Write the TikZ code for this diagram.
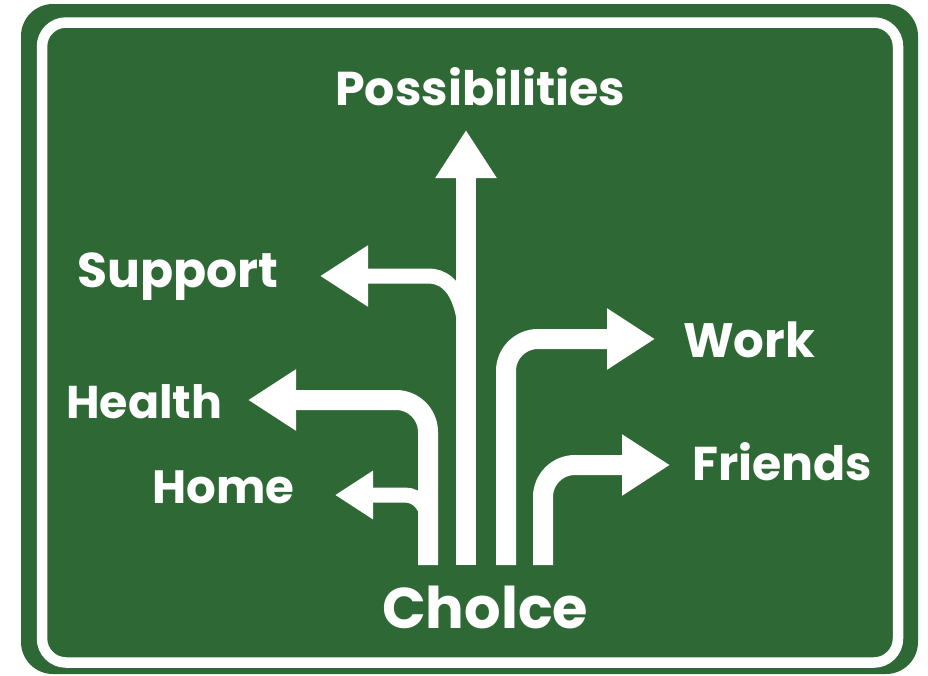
\documentclass[tikz,border=0pt]{standalone}
\usepackage{fontspec}
\setmainfont{Poppins}
\usetikzlibrary{arrows.meta}
\definecolor{signgreen}{RGB}{46,104,53}
\begin{document}
\begin{tikzpicture}[x=1pt,y=-1pt,
  lbl/.style={text=white, font=\bfseries, inner sep=0pt, anchor=base west},
  road/.style={draw=white, line width=20pt, line cap=butt},
  branch/.style={draw=white, line width=15pt, line cap=butt},
  bighead/.style={-{Triangle[width=58pt,length=48pt]}},
  smallhead/.style={-{Triangle[width=46pt,length=38pt]}}]
\useasboundingbox (0,0) rectangle (928,675);
\fill[white] (0,0) rectangle (928,675);
% sign board
\fill[signgreen, rounded corners=32pt] (21,4) rectangle (918,674);
\draw[white, line width=10.5pt, rounded corners=24pt] (42,22.5) rectangle (898,662.5);
% coordinates
\coordinate (mainS) at (466,565);
\coordinate (mainT) at (466,130);
\coordinate (supJ) at (466,345);
\coordinate (supT) at (320,276);
\coordinate (hltS) at (428,565);
\coordinate (hltT) at (248,400);
\coordinate (homJ) at (428,522);
\coordinate (homT) at (335,495);
\coordinate (wrkS) at (506,565);
\coordinate (wrkT) at (655,339);
\coordinate (frdS) at (543,565);
\coordinate (frdT) at (670,465);
% arrows
\draw[branch, bighead] (supJ) to[out=-90+180,in=0] (428,276) -- (supT);
\draw[branch, smallhead] (homJ) to[out=90,in=0] (405,495) -- (homT);
\draw[road, bighead] (mainS) -- (mainT);
\draw[road, bighead, rounded corners=32pt] (hltS) |- (hltT);
\draw[road, bighead, rounded corners=32pt] (wrkS) |- (wrkT);
\draw[road, bighead, rounded corners=32pt] (frdS) |- (frdT);
% labels
\node[lbl] (poss) at (335,105) {\resizebox{290pt}{!}{Possibilities}};
\node[lbl] (supp) at (77,287) {\resizebox{201pt}{!}{Support}};
\node[lbl] (hlth) at (66,418) {\resizebox{156pt}{!}{Health}};
\node[lbl] (home) at (152,503) {\resizebox{142pt}{!}{Home}};
\node[lbl] (work) at (683,357) {\resizebox{132pt}{!}{Work}};
\node[lbl] (frnd) at (692,480) {\resizebox{180pt}{!}{Friends}};
\node[lbl] (chce) at (382,628) {\resizebox{206pt}{!}{Cholce}};
\end{tikzpicture}
\end{document}
